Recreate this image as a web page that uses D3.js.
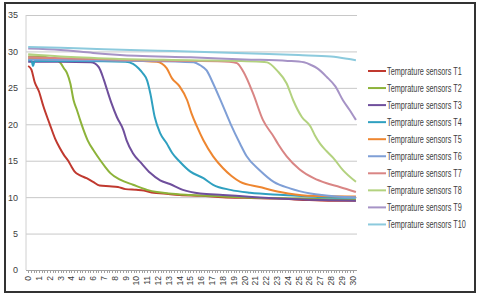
<!DOCTYPE html>
<meta charset="utf-8">
<script src="https://d3js.org/d3.v7.min.js"></script>
<style>
body { margin: 0; background: #fff; }
text { font-family: "Liberation Sans", Arial, sans-serif; fill: #404040; }
.grid line { stroke: #c8c8c8; stroke-width: 1; }
.grid path { display: none; }
</style>
<div id="chart"></div>
<script>

// sensor readings, [time, temperature]
var t1 = [[0,28.0],[0.3,27.5],[0.6,25.8],[1.0,24.5],[1.4,22.5],[2.0,20.0],[2.5,18.0],[2.9,16.8],[3.3,15.8],[3.7,15.0],[4.0,14.2],[4.3,13.5],[4.8,13.0],[5.4,12.6],[6.0,12.1],[6.6,11.6],[7.5,11.5],[8.3,11.4],[9.0,11.1],[10.0,11.0],[10.7,10.9],[11.6,10.6],[12.5,10.5],[14,10.3],[16,10.2],[18,10.0],[20,9.9],[23,9.8],[26,9.6],[28,9.5],[30.3,9.5]];
var t2 = [[0,29.3],[1,29.3],[2,29.1],[2.6,28.8],[3.0,28.4],[3.3,27.7],[3.6,27.0],[3.9,25.6],[4.2,23.3],[4.5,22.0],[4.8,20.6],[5.1,19.3],[5.5,17.8],[6.1,16.3],[6.65,15.1],[7.1,14.2],[7.6,13.3],[8.5,12.4],[9.7,11.7],[11.0,11.0],[11.9,10.7],[13,10.5],[15,10.3],[18,10.1],[21,9.9],[25,9.8],[30.3,9.6]];
var t3 = [[0,28.6],[3,28.6],[5.8,28.5],[6.5,27.9],[7.0,26.1],[7.3,24.7],[7.7,22.9],[8.2,21.0],[8.8,19.2],[9.1,17.8],[9.7,16.0],[10.5,14.6],[11.3,13.3],[12.2,12.3],[13.1,11.8],[14.3,11.0],[15.9,10.5],[18,10.3],[21,10.0],[25,9.7],[30.3,9.5]];
var t4 = [[0,28.8],[0.3,28.8],[0.45,28.0],[0.6,28.7],[5,28.7],[9,28.6],[9.7,28.3],[10.2,27.7],[10.6,27.0],[11.0,26.0],[11.3,24.2],[11.7,21.0],[12.2,18.8],[12.8,17.4],[13.3,16.1],[14.0,14.9],[15.0,13.5],[16.2,12.6],[17.1,11.7],[18.7,11.0],[20.5,10.6],[23.6,10.3],[27,10.0],[30.3,9.9]];
var t5 = [[0,29.0],[3,28.9],[8,28.8],[11.9,28.6],[12.8,27.7],[13.3,26.3],[14.0,25.2],[14.7,23.3],[15.1,21.5],[15.6,19.7],[16.2,17.8],[17.1,15.6],[18.0,14.0],[18.8,12.9],[19.6,12.1],[21.4,11.4],[23.3,10.7],[25.8,10.2],[30.3,10.1]];
var t6 = [[0,28.9],[5,28.8],[10,28.7],[15.3,28.5],[15.9,28.1],[16.5,27.4],[17.1,25.6],[17.9,22.9],[18.7,20.1],[19.6,17.3],[20.2,15.6],[21.4,13.7],[22.7,12.1],[24.2,11.2],[26.1,10.5],[28.5,10.1],[30.3,10.0]];
var t7 = [[0,29.2],[5,29.0],[10,28.8],[15,28.7],[18.6,28.6],[19.3,28.4],[19.9,27.2],[20.8,24.2],[21.7,20.6],[22.7,18.3],[23.1,17.3],[23.9,15.6],[25.1,13.8],[26.4,12.6],[27.6,11.9],[28.8,11.4],[30.3,10.7]];
var t8 = [[0,29.6],[3,29.3],[8,29.0],[15,28.8],[21.5,28.6],[22.1,28.5],[23.0,27.4],[23.9,25.6],[24.5,23.3],[25.3,21.0],[26.1,19.7],[26.5,18.5],[27.0,17.3],[27.6,16.3],[28.2,15.4],[29.1,13.7],[30.3,12.1]];
var t9 = [[0,30.4],[3,30.2],[6,29.8],[10,29.4],[15,29.2],[20,28.9],[24,28.7],[25.5,28.5],[26.2,28.1],[26.7,27.7],[27.6,26.5],[28.4,25.2],[29.1,23.3],[29.7,22.0],[30.3,20.6]];
var t10 = [[0,30.6],[3,30.5],[7,30.3],[12,30.1],[20,29.75],[25,29.5],[28,29.3],[29.5,29.0],[30.3,28.8]];

var names = ["Temprature sensors T1","Temprature sensors T2","Temprature sensors T3","Temprature sensors T4","Temprature sensors T5",
             "Temprature sensors T6","Temprature sensors T7","Temprature sensors T8","Temprature sensors T9","Temprature sensors T10"];
var colors = ["#c0392f","#8db33a","#6f4f9c","#2fa0c0","#ee8630","#7f9fd6","#d98584","#b3d27f","#a693c6","#8ccadd"];
var series = [t1,t2,t3,t4,t5,t6,t7,t8,t9,t10];

var xTicks = d3.range(0, 31);
var yTicks = [0,5,10,15,20,25,30,35];

var width = 480, height = 295;
var svg = d3.select("#chart").append("svg")
    .attr("width", width).attr("height", height);

// outer frame
svg.append("rect")
  .attr("x", 5).attr("y", 3).attr("width", 470).attr("height", 289)
  .attr("fill", "none").attr("stroke", "#333").attr("stroke-width", 2);

var x = d3.scaleLinear().domain([-0.2, 30.4]).range([26, 357]);
var y = d3.scaleLinear().domain([0, 35]).range([270, 15]);

// gridlines + y labels
svg.append("g")
  .attr("class", "grid")
  .attr("transform", "translate(26,0)")
  .call(d3.axisLeft(y).tickValues(yTicks).tickSize(-331).tickPadding(8))
  .selectAll("text").style("font-size", "9px");

svg.append("line")
  .attr("x1", 26).attr("x2", 26).attr("y1", 15).attr("y2", 270)
  .attr("stroke", "#d0d0d0");

// x axis line and minor ticks
svg.append("line")
  .attr("x1", 26).attr("x2", 357).attr("y1", 270.5).attr("y2", 270.5)
  .attr("stroke", "#a0a0a0");
svg.append("g").selectAll("line")
  .data(d3.range(0, 121).map(function(i) { return i / 4; }))
  .join("line")
    .attr("x1", function(d) { return Math.round(x(d)) + 0.5; })
    .attr("x2", function(d) { return Math.round(x(d)) + 0.5; })
    .attr("y1", 270).attr("y2", 273)
    .attr("stroke", "#a0a0a0");

svg.append("g").selectAll("text")
  .data(xTicks)
  .join("text")
    .attr("transform", function(d) { return "translate(" + (x(d) + 3) + ",276) rotate(-90)"; })
    .attr("text-anchor", "end")
    .style("font-size", "8.5px")
    .text(function(d) { return d; });

// lines
var line = d3.line()
  .x(function(d) { return x(d[0]); })
  .y(function(d) { return y(d[1]); })
  .curve(d3.curveMonotoneX);

svg.append("g").selectAll("path")
  .data(series)
  .join("path")
    .attr("d", line)
    .attr("fill", "none")
    .attr("stroke", function(d, i) { return colors[i]; })
    .attr("stroke-width", 2);

// legend
var leg = svg.append("g").selectAll("g")
  .data(names)
  .join("g")
    .attr("transform", function(d, i) { return "translate(368," + (71 + i * 17.05) + ")"; });
leg.append("line")
  .attr("x1", 0).attr("x2", 18)
  .attr("stroke", function(d, i) { return colors[i]; })
  .attr("stroke-width", 2);
var legText = leg.append("text")
  .attr("dy", "0.35em")
  .style("font-size", "10.5px")
  .text(function(d) { return d; });

// squeeze legend text so the longest label spans ~79px (narrow font look)
var maxW = d3.max(legText.nodes(), function(n) { return n.getComputedTextLength(); });
var k = 79 / maxW;
legText.attr("transform", "translate(19,0) scale(" + k + ",1)");

</script>
